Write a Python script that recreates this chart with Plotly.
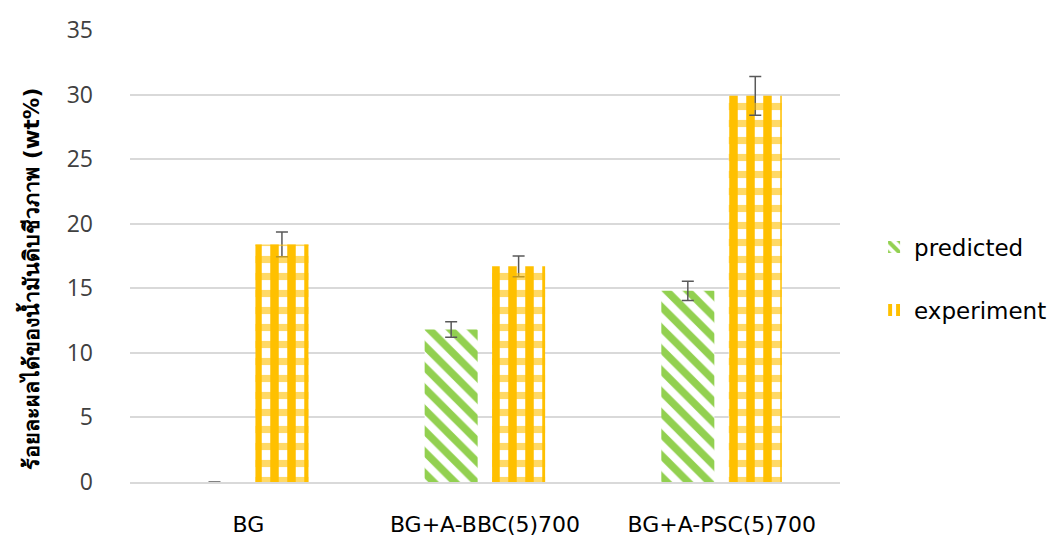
import plotly.graph_objects as go

categories = ["BG", "BG+A-BBC(5)700", "BG+A-PSC(5)700"]
predicted = [0.0, 11.8, 14.8]
predicted_err = [0.0, 0.6, 0.75]
experiment = [18.4, 16.7, 29.9]
experiment_err = [0.95, 0.8, 1.5]
y_ticks = [0, 5, 10, 15, 20, 25, 30, 35]
y_title = "ร้อยละผลได้ของน้ำมันดิบชีวภาพ (wt%)"

BAR_W = 0.224
PRED_OFF = -0.255
EXP_OFF = 0.030

fig = go.Figure()
fig.add_trace(go.Bar(
    name="predicted", x=categories, y=predicted, legendgroup="a",
    width=BAR_W, offset=PRED_OFF,
    marker=dict(color="white", line=dict(width=0),
                pattern=dict(shape="\\", fgcolor="#92D050", bgcolor="white",
                             fgopacity=1, size=15, solidity=0.5)),
    error_y=dict(type="data", array=predicted_err, color="#595959",
                 thickness=1.5, width=6),
))
fig.add_trace(go.Bar(
    name="experiment", x=categories, y=experiment, legendgroup="b",
    width=BAR_W, offset=EXP_OFF,
    marker=dict(color="white", line=dict(width=0),
                pattern=dict(shape="|", fgcolor="#FFC000", bgcolor="white",
                             fgopacity=1, size=17, solidity=0.5)),
    error_y=dict(type="data", array=experiment_err, color="#595959",
                 thickness=1.5, width=6),
))
# lighter horizontal bands of the experiment fill
fig.add_trace(go.Bar(
    name="experiment", x=categories, y=experiment, showlegend=False,
    width=BAR_W, offset=EXP_OFF, hoverinfo="skip",
    marker=dict(color="rgba(0,0,0,0)", line=dict(width=0),
                pattern=dict(shape="-", fgcolor="#FFC000", bgcolor="rgba(0,0,0,0)",
                             fgopacity=0.6, size=17, solidity=0.42)),
))

fig.update_layout(
    width=1051, height=528,
    margin=dict(l=122, r=219, t=22, b=54, autoexpand=False),
    paper_bgcolor="white", plot_bgcolor="white",
    barmode="overlay",
    font=dict(family="DejaVu Sans, sans-serif", color="#000000", size=20),
    legend=dict(x=1.048, xanchor="left", y=0.45, yanchor="middle",
                font=dict(size=23, color="#000000"), tracegroupgap=30,
                bgcolor="rgba(0,0,0,0)"),
    showlegend=True,
    annotations=[dict(
        text=y_title, textangle=-90, xref="paper", yref="paper",
        x=-(122 - 22) / 710, y=0.45, xanchor="center", yanchor="middle",
        showarrow=False, font=dict(size=21.5, color="#000000", weight="bold"),
    )],
)
fig.update_yaxes(
    range=[0, 35], tickvals=y_ticks, showgrid=True, gridcolor="#D9D9D9",
    gridwidth=1.5, zeroline=False, showline=False, ticks="", automargin=False,
    ticklabelstandoff=36,
    tickfont=dict(family="Open Sans, sans-serif", size=23, color="#404040"),
)
fig.update_xaxes(
    showline=True, linecolor="#D9D9D9", linewidth=1.5, ticks="", automargin=False,
    ticklabelstandoff=22, tickfont=dict(size=22, color="#000000"),
)

fig.write_html("out.html")
